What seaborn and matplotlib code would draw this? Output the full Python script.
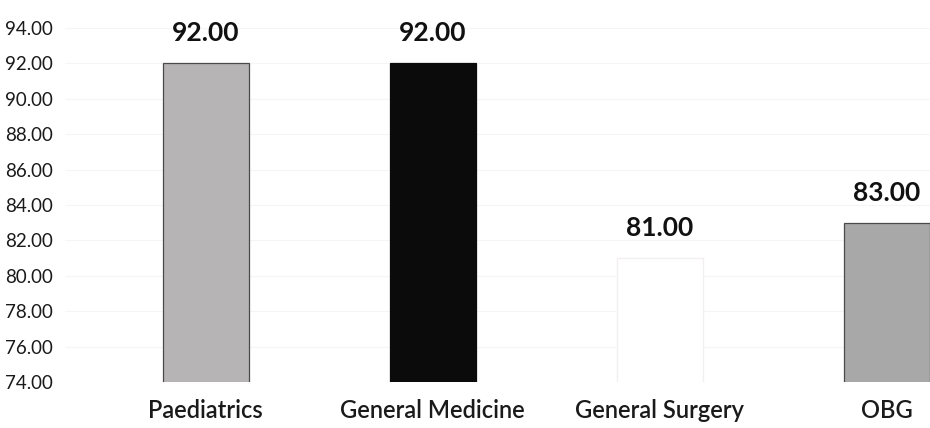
import matplotlib
matplotlib.use('Agg')
import matplotlib.pyplot as plt
import seaborn as sns
import pandas as pd

departments = ['Paediatrics', 'General Medicine', 'General Surgery', 'OBG']
scores = [92.00, 92.00, 81.00, 83.00]
bar_colors = ['#b6b4b5', '#0b0b0b', '#ffffff', '#a9a8a9']
edge_colors = ['#4a4a4a', '#0b0b0b', '#f3eff0', '#4a4a4a']
y_ticks = [74, 76, 78, 80, 82, 84, 86, 88, 90, 92, 94]

sns.set_theme(style='white')
plt.rcParams['font.family'] = ['Lato', 'DejaVu Sans']

df = pd.DataFrame({'dept': departments, 'score': scores})

fig = plt.figure(figsize=(9.3, 4.28), dpi=100)
ax = fig.add_axes([0.07, 0.1075, 0.93, 0.8271])

sns.barplot(data=df, x='dept', y='score', hue='dept', palette=bar_colors,
            legend=False, width=0.38, linewidth=0.9, ax=ax)
for patch, ec in zip(ax.patches, edge_colors):
    patch.set_edgecolor(ec)

ax.set_ylim(74, 94)
ax.set_xlim(-0.62, 3.19)
ax.set_yticks(y_ticks)
ax.set_yticklabels([f'{t:.2f}' for t in y_ticks], fontsize=13.5, color='#1a1a1a')
ax.set_xticks(range(len(departments)))
ax.set_xticklabels(departments, fontsize=17, fontweight='semibold', color='#1a1a1a')
ax.tick_params(axis='y', length=0, pad=9)
ax.tick_params(axis='x', length=0, pad=12)
ax.set_xlabel('')
ax.set_ylabel('')
for s in ax.spines.values():
    s.set_visible(False)
ax.yaxis.grid(True, color='#f7f4f4', linewidth=0.8)
ax.set_axisbelow(True)

for i, v in enumerate(scores):
    ax.text(i, v + 1.7, f'{v:.2f}', ha='center', va='center', fontsize=19,
            fontweight='bold', color='#111111', clip_on=False)

fig.savefig('out.png', dpi=100)
